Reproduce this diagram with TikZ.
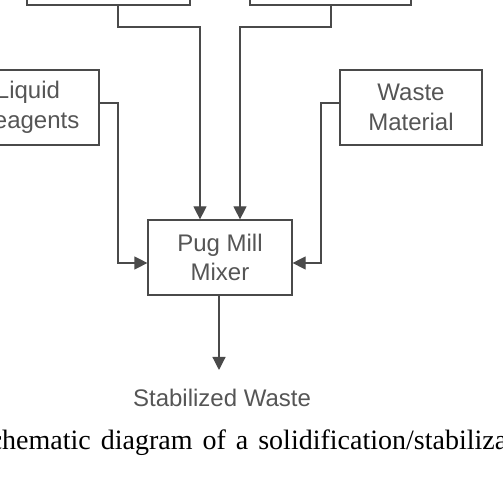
\documentclass[tikz,border=0pt]{standalone}
\usepackage{fontspec}
\setmainfont{Liberation Serif}
\newfontfamily\diagfont{Liberation Sans}
\usetikzlibrary{arrows.meta}
\definecolor{linegray}{HTML}{4A4A4A}
\definecolor{textgray}{HTML}{555555}
\begin{document}
\begin{tikzpicture}[x=1pt,y=1pt,
  box/.style={draw=linegray,line width=1.2pt,rectangle,inner sep=0pt,
    font=\diagfont\fontsize{24}{29.5}\selectfont,text=textgray,align=center},
  arr/.style={draw=linegray,line width=1.2pt,-{Triangle[length=13pt,width=13pt]}},
  lbl/.style={font=\diagfont\fontsize{24}{29.5}\selectfont,text=textgray,inner sep=0pt}]
\useasboundingbox (0,0) rectangle (503,478);
\clip (0,0) rectangle (503,478);
% boxes
\node[box,minimum width=163pt,minimum height=45pt] (topL) at (108.5,495.5) {};
\node[box,minimum width=161pt,minimum height=45pt] (topR) at (330.5,495.5) {};
\node[box,minimum width=142pt,minimum height=75pt] (liq) at (28,370.5) {Liquid\\Reagents};
\node[box,minimum width=142pt,minimum height=75pt] (waste) at (411,370.5) {Waste\\Material};
\node[box,minimum width=144pt,minimum height=75pt] (pug) at (220,220.5) {Pug Mill\\Mixer};
\node[lbl,anchor=base] (stab) at (222,71) {Stabilized Waste};
% connectors
\coordinate (tl) at (118,473);
\coordinate (tr) at (331,473);
\draw[arr] (tl) -- (118,451) -- (200,451) -- (pug.north -| 200,0);
\draw[arr] (tr) -- (331,451) -- (240,451) -- (pug.north -| 240,0);
\draw[arr] (liq.east |- 0,375) -- (118,375) -- (118,215) -- (pug.west |- 0,215);
\draw[arr] (waste.west |- 0,375) -- (321,375) -- (321,215) -- (pug.east |- 0,215);
\draw[arr] (pug.south -| 219,0) -- (219,108);
% caption
\node[anchor=base west,inner sep=0pt,font=\fontsize{28}{33}\selectfont] (cap) at (-26,28) {\spaceskip=10pt\relax Schematic diagram of a solidification/stabilization};
\end{tikzpicture}
\end{document}
